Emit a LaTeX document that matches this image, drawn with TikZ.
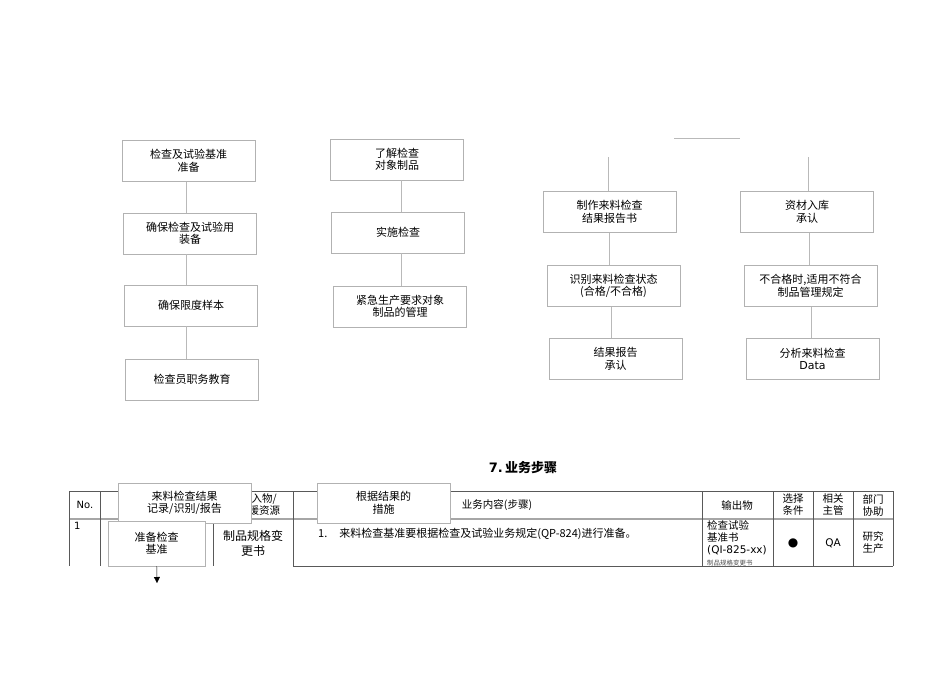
\documentclass[tikz,border=0pt]{standalone}
\usepackage{fontspec}
\setmainfont{DejaVu Sans}
\newfontfamily\cjk{Noto Sans CJK SC}
\usetikzlibrary{arrows.meta}

\tikzset{
  flowbox/.style = {draw=gray!60, fill=white, minimum width=133pt, minimum height=41pt,
                    inner sep=1pt, align=center, font=\cjk\fontsize{11}{12.5}\selectfont},
  link/.style = {draw=gray!55, line width=0.6pt},
  tline/.style = {draw=black!65, line width=0.7pt},
  cell/.style = {inner sep=0pt, align=center, font=\cjk\fontsize{10.5}{12}\selectfont}
}

\begin{document}
\begin{tikzpicture}[x=1pt, y=-1pt]
\useasboundingbox (0,0) rectangle (950,672);

% column 1
\node[flowbox] (b1) at (188.5,161) {检查及试验基准\\准备};
\node[flowbox] (b2) at (190,233.5) {确保检查及试验用\\装备};
\node[flowbox] (b3) at (191,305.5) {确保限度样本};
\node[flowbox] (b4) at (192,379.5) {检查员职务教育};
\draw[link] (b1.south -| 186,0) -- (b2.north -| 186,0);
\draw[link] (b2.south -| 186,0) -- (b3.north -| 186,0);
\draw[link] (b3.south -| 186,0) -- (b4.north -| 186,0);

% column 2
\node[flowbox] (c1) at (397,159.5) {了解检查\\对象制品};
\node[flowbox] (c2) at (398,232.5) {实施检查};
\node[flowbox] (c3) at (400,306.5) {紧急生产要求对象\\制品的管理};
\draw[link] (c1.south -| 401,0) -- (c2.north -| 401,0);
\draw[link] (c2.south -| 401,0) -- (c3.north -| 401,0);

% top right
\coordinate (t1) at (674,138);
\coordinate (t2) at (740,138);
\draw[link] (t1) -- (t2);

% column 3
\coordinate (d0) at (608,157);
\node[flowbox] (d1) at (609.5,212) {制作来料检查\\结果报告书};
\node[flowbox] (d2) at (613.5,286) {识别来料检查状态\\(合格/不合格)};
\node[flowbox] (d3) at (615.5,359) {结果报告\\承认};
\draw[link] (d0) -- (d1.north -| d0);
\draw[link] (d1.south -| 609,0) -- (d2.north -| 609,0);
\draw[link] (d2.south -| 611,0) -- (d3.north -| 611,0);

% column 4
\coordinate (e0) at (808,157);
\node[flowbox] (e1) at (807,212) {资材入库\\承认};
\node[flowbox] (e2) at (810.5,286) {不合格时,适用不符合\\制品管理规定};
\node[flowbox] (e3) at (812.5,359) {分析来料检查\\{\fontspec{DejaVu Sans}Data}};
\draw[link] (e0) -- (e1.north -| e0);
\draw[link] (e1.south -| 809,0) -- (e2.north -| 809,0);
\draw[link] (e2.south -| 811,0) -- (e3.north -| 811,0);

% heading
\node[font=\bfseries\fontsize{13}{15}\selectfont] (head) at (523,468) {7.\,{\cjk 业务步骤}};

% table
\draw[tline] (69,491) -- (893,491);
\draw[draw=gray!70, line width=2pt] (69,519) -- (893,519);
\draw[tline] (293,566) -- (893,566);
\foreach \xx in {69,100,213,293} \draw[tline] (\xx,491) -- (\xx,566);
\foreach \xx in {702,773,813,853,893} \draw[tline] (\xx,491) -- (\xx,566);

\node[font=\fontsize{10}{12}\selectfont] (hno) at (85,505) {No.};
\node[cell] (hres) at (259,505) {投入物/\\支援资源};
\node[cell] (hstep) at (497,505) {业务内容(步骤)};
\node[cell] (hout) at (737,505) {输出物};
\node[cell] (hsel) at (793,505) {选择\\条件};
\node[cell] (hmgr) at (833,505) {相关\\主管};
\node[cell] (hdep) at (873,505) {部门\\协助};

\node[anchor=north west, inner sep=0pt, font=\fontsize{10}{12}\selectfont] (r1) at (74,522) {1};
\node[cell, font=\cjk\fontsize{12}{15}\selectfont] (r1res) at (253,543) {制品规格变\\更书};
\node[anchor=west, inner sep=0pt, font=\cjk\fontsize{11}{12}\selectfont] (r1step) at (318,534)
  {1.\hspace{12pt}来料检查基准要根据检查及试验业务规定(QP-824)进行准备。};
\node[anchor=north west, inner sep=0pt, align=left, font=\cjk\fontsize{10.5}{12}\selectfont] (r1out) at (707,520)
  {检查试验\\基准书\\{\fontspec{DejaVu Sans}(QI-825-xx)}};
\node[anchor=west, inner sep=0pt, font=\cjk\fontsize{6.5}{7}\selectfont, text=black!70] (r1note) at (707,563) {制品规格变更书};
\node[font=\fontsize{12}{13}\selectfont] (r1sel) at (793,543) {●};
\node[font=\fontsize{10.5}{12}\selectfont] (r1mgr) at (833,543) {QA};
\node[cell] (r1dep) at (873,543) {研究\\生产};

% overlay boxes
\node[flowbox, minimum height=40pt] (o1) at (184.5,503) {来料检查结果\\记录/识别/报告};
\node[flowbox, minimum height=40pt] (o2) at (383.5,503) {根据结果的\\措施};
\node[flowbox, minimum width=97pt, minimum height=45pt] (o3) at (156.5,543.5) {准备检查\\基准};
\coordinate (o3end) at (157,583);
\draw[draw=black, -{Triangle[length=6pt, width=6pt]}] (o3) -- (o3end);
\end{tikzpicture}
\end{document}
